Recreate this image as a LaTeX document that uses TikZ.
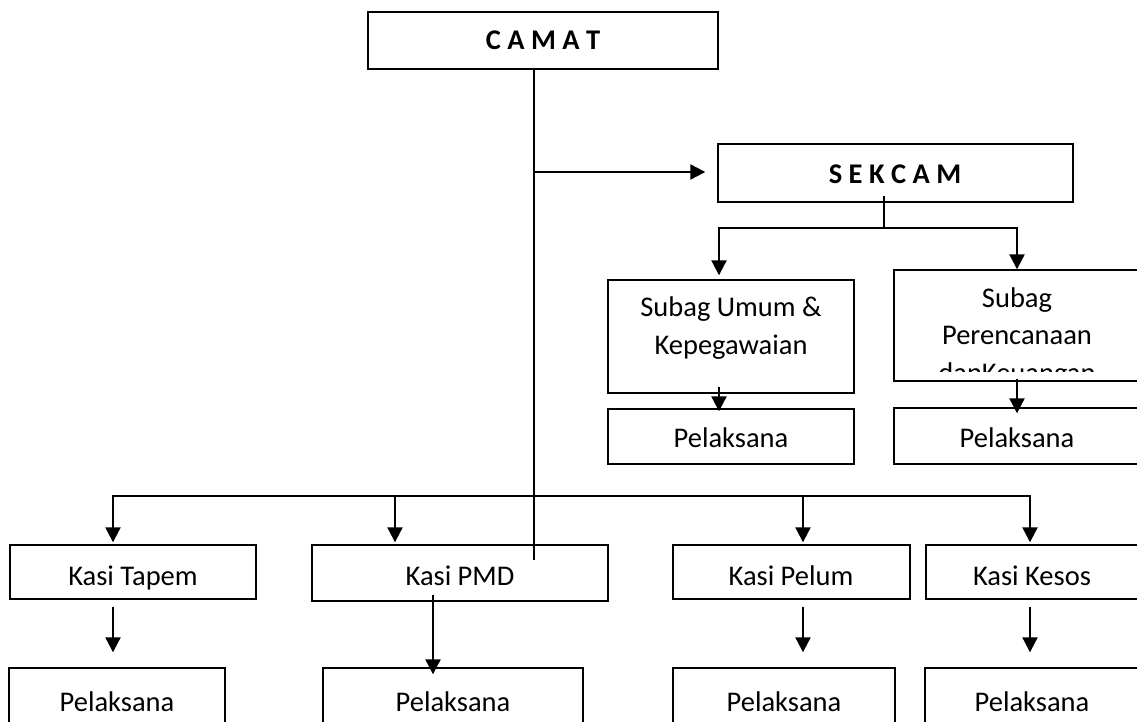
\documentclass[tikz,border=0pt]{standalone}
\usepackage{fontspec}
\setmainfont{Carlito}
\usetikzlibrary{arrows.meta}
\newcommand\mybox[5]{\node[box, minimum width={(#4)-(#2)}, minimum height={(#5)-(#3)}] (#1) at ({((#2)+(#4))/2},{((#3)+(#5))/2}) {};}
\begin{document}
\begin{tikzpicture}[x=1pt,y=-1pt,
  box/.style={draw, line width=1.4pt, inner sep=0pt, fill=none},
  lbl/.style={anchor=base, inner sep=0pt, font=\fontsize{28.5}{34}\selectfont},
  ttl/.style={anchor=base, inner sep=0pt, font=\fontsize{28.5}{34}\selectfont\bfseries},
  arr/.style={line width=2.2pt, -{Triangle[length=15pt,width=15pt]}},
  conn/.style={line width=2.2pt},
  thinl/.style={line width=1.2pt}]
\useasboundingbox (0,0) rectangle (1137,722);
\clip (0,0) rectangle (1137,722);

% boxes
\mybox{camat}{368}{12}{718}{69}
\mybox{sekcam}{718}{144}{1073}{202}
\mybox{umum}{608}{280}{854}{393}
\mybox{per}{894}{270}{1142}{381}
\mybox{pumum}{608}{409}{854}{464}
\mybox{pper}{894}{408}{1142}{464}
\mybox{tapem}{10}{545}{256}{599}
\mybox{pmd}{312}{545}{608}{601}
\mybox{pelum}{673}{545}{910}{599}
\mybox{kesos}{926}{545}{1142}{599}
\mybox{ptapem}{9}{668}{225}{740}
\mybox{ppmd}{323}{668}{583}{740}
\mybox{ppelum}{673}{668}{895}{740}
\mybox{pkesos}{925}{668}{1142}{740}

% texts
\node[ttl] (tcamat) at (543,50) {C A M A T};
\node[ttl] (tsekcam) at (895,183) {S E K C A M};
\node[lbl] (tumum1) at (731,316) {Subag Umum \&};
\node[lbl] (tumum2) at (731,354) {Kepegawaian};
\node[lbl] (tpumum) at (731,447) {Pelaksana};
\node[lbl] (tper1) at (1017,307) {Subag};
\node[lbl] (tper2) at (1017,344) {Perencanaan};
\begin{scope}
  \clip (894,0) rectangle (1137,371);
  \node[lbl] (tper3) at (1017,382) {danKeuangan};
\end{scope}
\node[lbl] (tpper) at (1017,447) {Pelaksana};
\node[lbl] (ttapem) at (133,585) {Kasi Tapem};
\node[lbl] (tpmd) at (460,585) {Kasi PMD};
\node[lbl] (tpelum) at (791,585) {Kasi Pelum};
\node[lbl] (tkesos) at (1032,585) {Kasi Kesos};
\node[lbl] (tptapem) at (117,711) {Pelaksana};
\node[lbl] (tppmd) at (453,711) {Pelaksana};
\node[lbl] (tppelum) at (784,711) {Pelaksana};
\node[lbl] (tpkesos) at (1032,711) {Pelaksana};

% connectors
\coordinate (cj) at (534,172);
\coordinate (cend) at (534,560);
\draw[thinl] (camat.south -| cj) -- (cend);
\draw[arr] (cj) -- ([xshift=-12pt]sekcam.west |- cj);

\coordinate (s0) at (884,228);
\coordinate (s1) at (719,228);
\coordinate (s2) at (1017,228);
\draw[thinl] (sekcam.south -| s0) ++(0,-7) -- (s0);
\draw[arr, shorten >=4pt] (s0) -| (umum.north -| s1);
\draw[arr] (s0) -| (per.north -| s2);
\draw[arr, shorten >=-3pt] (umum.south -| s1) ++(0,-7) -- (pumum.north -| s1);
\draw[arr, shorten >=-6pt] (per.south -| s2) ++(0,-3) -- (pper.north -| s2);

\coordinate (b1) at (113,496);
\coordinate (b2) at (395,496);
\coordinate (b3) at (803,496);
\coordinate (b4) at (1030,496);
\draw[conn] (b2) -- (b3);
\draw[arr, shorten >=2pt] (b2) -| (tapem.north -| b1);
\draw[arr, shorten >=2pt] (b3) -| (kesos.north -| b4);
\draw[arr, shorten >=2pt] (b2) -- (pmd.north -| b2);
\draw[arr, shorten >=2pt] (b3) -- (pelum.north -| b3);

\coordinate (pm) at (433,0);
\draw[arr, shorten <=7pt, shorten >=15pt] (tapem.south -| b1) -- (ptapem.north -| b1);
\draw[arr, shorten <=-7pt, shorten >=-7pt] (pmd.south -| pm) -- (ppmd.north -| pm);
\draw[arr, shorten <=7pt, shorten >=15pt] (pelum.south -| b3) -- (ppelum.north -| b3);
\draw[arr, shorten <=7pt, shorten >=15pt] (kesos.south -| b4) -- (pkesos.north -| b4);
\end{tikzpicture}
\end{document}
